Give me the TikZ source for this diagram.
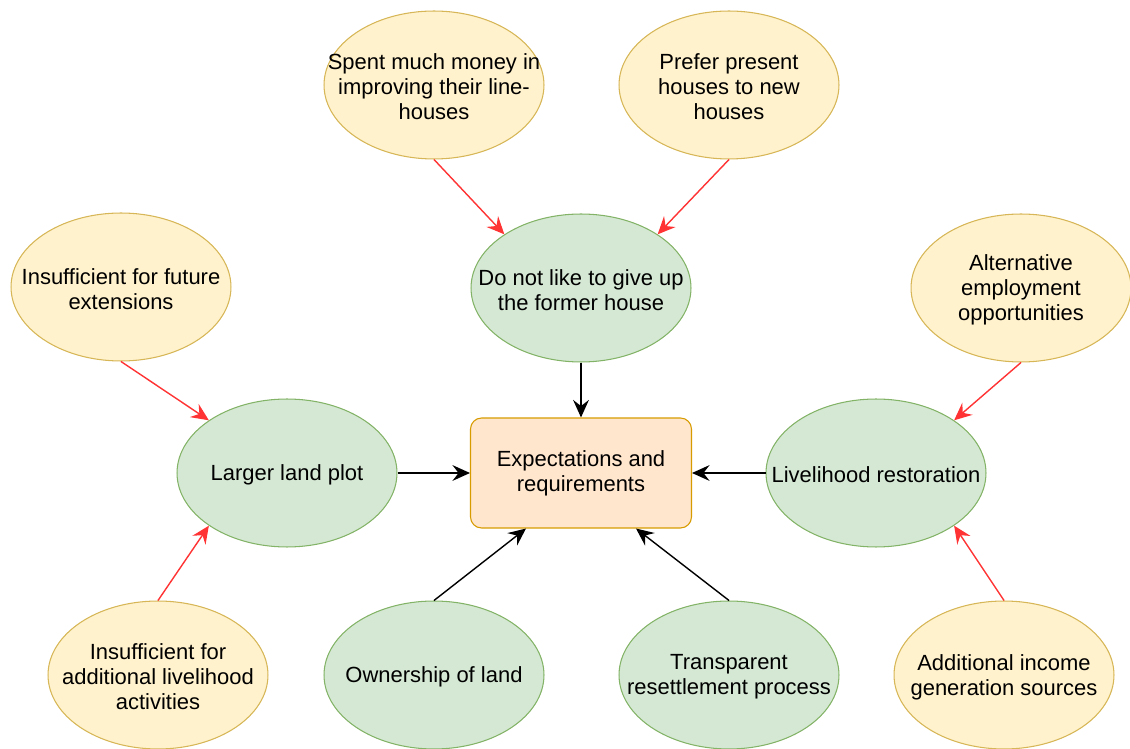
\documentclass[tikz,border=0pt]{standalone}
\usepackage{fontspec}
\setmainfont{Liberation Sans}
\usetikzlibrary{arrows.meta, shapes.geometric}

\definecolor{yelfill}{HTML}{FFF2CC}
\definecolor{yeldraw}{HTML}{D6B656}
\definecolor{grnfill}{HTML}{D5E8D4}
\definecolor{grndraw}{HTML}{82B366}
\definecolor{orgfill}{HTML}{FFE6CC}
\definecolor{orgdraw}{HTML}{D79B00}
\definecolor{redline}{HTML}{FF3333}

\begin{document}
\begin{tikzpicture}[
    x=0.02cm, y=-0.02cm,
    txt/.style={align=center, inner sep=0pt, font=\fontsize{12.5}{14.3}\selectfont},
    cause/.style={
        ellipse, draw=yeldraw, fill=yelfill, line width=0.6pt,
        minimum width=4.4cm, minimum height=2.96cm,
        label={[txt, yshift=-0.04cm]center:#1}
    },
    factor/.style={
        ellipse, draw=grndraw, fill=grnfill, line width=0.6pt,
        minimum width=4.4cm, minimum height=2.96cm,
        label={[txt, yshift=-0.04cm]center:#1}
    },
    goal/.style={
        rectangle, rounded corners=0.22cm, draw=orgdraw, fill=orgfill,
        line width=0.6pt, minimum width=4.42cm, minimum height=2.2cm,
        txt
    },
    tip/.style={-{Stealth[length=10pt, width=9pt, inset=3.5pt]}, line width=0.8pt},
    blk/.style={tip, black},
    redarr/.style={tip, redline}
]
\useasboundingbox (0,0) rectangle (1130,749);

% centre
\node[goal] (expect) at (581,473) {Expectations and\\requirements};

% green factors
\node[factor={Do not like to give up\\the former house}] (house)  at (581,288) {};
\node[factor={Larger land plot}]                      (plot)   at (287,473) {};
\node[factor={Livelihood restoration}]                (liveli) at (876,473) {};
\node[factor={Ownership of land}]                     (owner)  at (434,675) {};
\node[factor={Transparent\\resettlement process}]     (transp) at (729,675) {};

% yellow causes
\node[cause={Spent much money in\\improving their line-\\houses}]       (money)  at (434,85)  {};
\node[cause={Prefer present\\houses to new\\houses}]                     (prefer) at (729,85)  {};
\node[cause={Insufficient for future\\extensions}]                       (future) at (121,287) {};
\node[cause={Alternative\\employment\\opportunities}]                    (altemp) at (1021,288) {};
\node[cause={Insufficient for\\additional livelihood\\activities}]       (addliv) at (158,675) {};
\node[cause={Additional income\\generation sources}]                     (income) at (1004,675) {};

% black arrows
\draw[blk] (house) -- (expect);
\draw[blk] (plot) -- (expect);
\draw[blk] (liveli) -- (expect);
\draw[blk] (owner.north) -- ([xshift=-1.1cm]expect.south);
\draw[blk] (transp.north) -- ([xshift=1.1cm]expect.south);

% red arrows
\draw[redarr] (money.south)  -- (house.145);
\draw[redarr] (prefer.south) -- (house.35);
\draw[redarr] (future.south) -- (plot.146);
\draw[redarr] (addliv.north) -- (plot.214);
\draw[redarr] (altemp.south) -- (liveli.34);
\draw[redarr] (income.north) -- (liveli.326);

\end{tikzpicture}
\end{document}
